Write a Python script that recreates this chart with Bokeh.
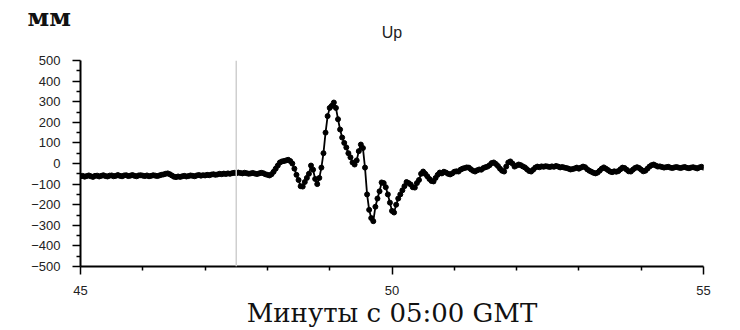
from bokeh.plotting import figure
from bokeh.models import Range1d, FixedTicker, Span, Title, ColumnDataSource
from bokeh.embed import file_html
from bokeh.resources import INLINE

# ---- data (mm), sampled every 2 s, minutes after 05:00 GMT ----
start_minute = 45
step_min = 1.0 / 30.0
up_45 = [-62, -60, -64, -61, -58, -62, -65, -60, -59, -63, -60, -57, -61, -63, -59,
         -58, -62, -60, -56, -60, -62, -58, -57, -61, -59, -56, -60, -62, -58, -57]
up_46 = [-59, -61, -58, -62, -60, -57, -59, -61, -58, -55, -53, -50, -48, -52, -58,
         -64, -66, -63, -65, -62, -60, -63, -61, -58, -60, -62, -58, -56, -59, -57]
up_47 = [-58, -55, -57, -54, -52, -55, -53, -50, -52, -49, -51, -48, -50, -47, -45,
         -47, -44, -46, -48, -45, -47, -50, -48, -46, -49, -51, -48, -45, -47, -52]
up_48 = [-55, -58, -52, -40, -25, -10, 5, 10, 12, 15, 18, 12, 0, -25, -55,
         -80, -110, -112, -90, -70, -50, -10, -30, -75, -100, -70, -20, 50, 150, 230]
up_49 = [270, 280, 296, 270, 215, 165, 126, 100, 78, 50, 30, 5, -5, 15, 60,
         92, 75, -20, -150, -225, -265, -280, -210, -170, -135, -92, -95, -115, -150, -190]
up_50 = [-230, -238, -200, -170, -150, -130, -110, -90, -95, -102, -115, -117, -95, -80, -50,
         -39, -50, -62, -75, -85, -87, -70, -55, -44, -48, -40, -44, -50, -53, -48]
up_51 = [-40, -38, -39, -30, -25, -22, -19, -20, -28, -35, -39, -33, -29, -30, -22,
         -18, -15, -8, 2, 5, -2, -12, -25, -35, -39, -15, 5, 10, 0, -15]
up_52 = [-10, -5, -8, -14, -19, -28, -36, -39, -30, -20, -15, -18, -14, -16, -13,
         -15, -17, -14, -16, -12, -15, -19, -17, -20, -22, -25, -29, -27, -24, -20]
up_53 = [-25, -20, -15, -18, -28, -35, -40, -45, -48, -44, -35, -25, -19, -25, -32,
         -39, -42, -38, -40, -37, -28, -20, -22, -30, -38, -39, -30, -22, -18, -22]
up_54 = [-30, -38, -35, -25, -15, -8, -5, -10, -15, -14, -17, -20, -18, -16, -20,
         -22, -19, -17, -20, -22, -19, -17, -21, -23, -20, -18, -21, -24, -19, -16]
up_55 = [-20]

event_minute = 47.5
x_major = [45, 50, 55]
x_minor = [46, 47, 48, 49, 51, 52, 53, 54]
y_major = [-500, -400, -300, -200, -100, 0, 100, 200, 300, 400, 500]
y_minor = [-450, -350, -250, -150, -50, 50, 150, 250, 350, 450]
title_text = "Up"
unit_text = "мм"
xlabel_text = "Минуты с 05:00 GMT"

values = up_45 + up_46 + up_47 + up_48 + up_49 + up_50 + up_51 + up_52 + up_53 + up_54 + up_55
minutes = [start_minute + i * step_min for i in range(len(values))]
src = ColumnDataSource(dict(t=minutes, v=values))

p = figure(width=740, height=330, output_backend="svg", toolbar_location=None,
           x_range=Range1d(45, 55), y_range=Range1d(-500, 500),
           min_border_left=80, min_border_right=37, min_border_top=60, min_border_bottom=63)
p.outline_line_color = None
p.grid.visible = False
p.background_fill_color = "white"
p.border_fill_color = "white"

# outer title: unit label (left); inner title (added): chart name "Up"
p.title.text = unit_text
p.title.align = "left"
p.title.offset = -53
p.title.text_font = "DejaVu Serif"
p.title.text_font_size = "25px"
p.title.text_font_style = "bold"
p.title.text_color = "#111111"
p.title.standoff = -58
p.add_layout(Title(text=title_text, align="center", text_font="Liberation Sans",
                   text_font_size="16px", text_font_style="normal", text_color="#222222",
                   standoff=39), "above")

p.add_layout(Span(location=event_minute, dimension="height", line_color="#cfcfcf", line_width=1.5))

p.line("t", "v", source=src, line_color="black", line_width=1.8)
p.scatter("t", "v", source=src, size=5, fill_color="black", line_color="black")

for ax in (p.xaxis[0], p.yaxis[0]):
    ax.axis_line_color = "black"
    ax.axis_line_width = 2
    ax.major_tick_line_color = "black"
    ax.minor_tick_line_color = "black"
    ax.major_tick_line_width = 1.5
    ax.minor_tick_line_width = 1.5
    ax.major_tick_in = 0
    ax.major_tick_out = 8
    ax.minor_tick_in = 0
    ax.minor_tick_out = 4
    ax.major_label_text_font = "Liberation Sans"
    ax.major_label_text_font_size = "13px"
    ax.major_label_text_color = "#222222"

p.xaxis[0].ticker = FixedTicker(ticks=x_major, minor_ticks=x_minor)
p.yaxis[0].ticker = FixedTicker(ticks=y_major, minor_ticks=y_minor)
p.xaxis[0].major_label_standoff = 11
p.yaxis[0].major_label_standoff = 12
p.yaxis[0].major_label_overrides = {v: str(v).replace("-", "\u2212") for v in y_major}

p.xaxis[0].axis_label = xlabel_text
p.xaxis[0].axis_label_text_font = "DejaVu Serif"
p.xaxis[0].axis_label_text_font_size = "26px"
p.xaxis[0].axis_label_text_font_style = "normal"
p.xaxis[0].axis_label_text_color = "#111111"
p.xaxis[0].axis_label_standoff = 0

open("out.html", "w").write(file_html(p, INLINE))
